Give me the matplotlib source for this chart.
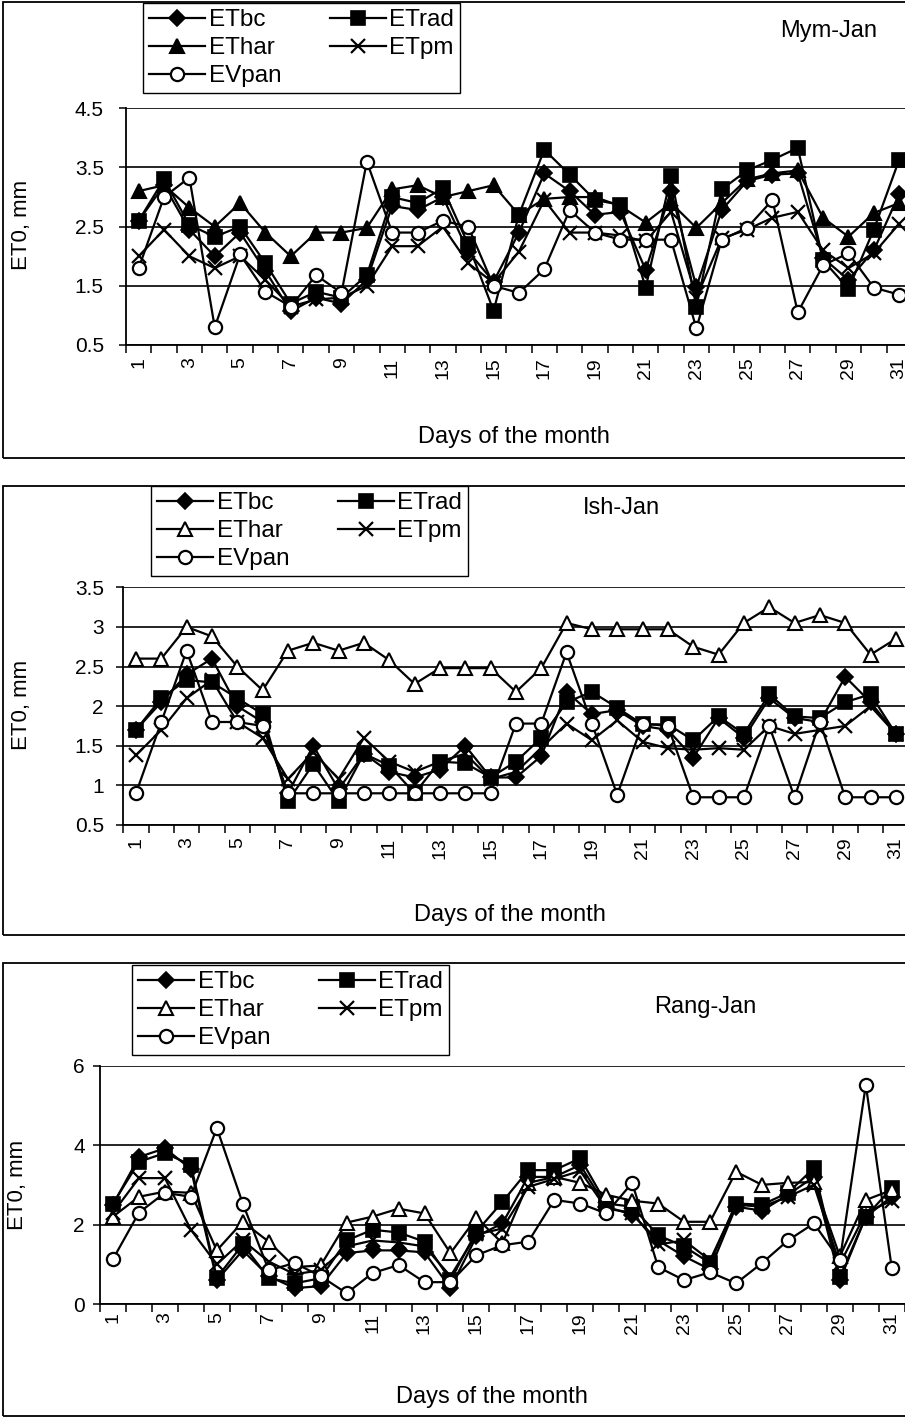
import matplotlib
matplotlib.use('Agg')
import matplotlib.pyplot as plt
from matplotlib.lines import Line2D
from matplotlib.patches import Rectangle
import numpy as np

plt.rcParams['font.family'] = ['Liberation Sans', 'DejaVu Sans']

days = list(range(1, 32))
label_days = list(range(1, 32, 2))
series_names = ['ETbc', 'ETrad', 'EThar', 'ETpm', 'EVpan']

# ---- Mym-Jan ----
mym_etbc = [2.6, 3.2, 2.45, 2.0, 2.4, 1.75, 1.07, 1.3, 1.2, 1.6, 2.85, 2.78, 3.0, 2.08, 1.57, 2.4,
            3.4, 3.1, 2.7, 2.75, 1.77, 3.1, 1.48, 2.78, 3.27, 3.38, 3.4, 1.97, 1.6, 2.1, 3.05]
mym_etrad = [2.6, 3.3, 2.53, 2.33, 2.5, 1.88, 1.2, 1.4, 1.3, 1.68, 3.0, 2.9, 3.15, 2.2, 1.08, 2.7,
             3.8, 3.38, 2.95, 2.87, 1.47, 3.35, 1.15, 3.13, 3.45, 3.63, 3.83, 1.93, 1.45, 2.45, 3.63]
mym_ethar = [3.1, 3.2, 2.82, 2.5, 2.9, 2.4, 2.0, 2.4, 2.4, 2.48, 3.13, 3.2, 3.0, 3.1, 3.2, 2.7,
             2.97, 3.0, 3.0, 2.85, 2.57, 2.9, 2.48, 2.9, 3.3, 3.4, 3.45, 2.65, 2.33, 2.73, 2.9]
mym_etpm = [2.0, 2.45, 2.0, 1.8, 2.0, 1.6, 1.15, 1.27, 1.3, 1.5, 2.17, 2.17, 2.5, 1.88, 1.55, 2.08,
            2.95, 2.4, 2.4, 2.35, 2.25, 2.75, 1.3, 2.3, 2.45, 2.65, 2.75, 2.1, 1.8, 2.05, 2.55]
mym_evpan = [1.8, 3.0, 3.33, 0.8, 2.03, 1.4, 1.15, 1.68, 1.38, 3.6, 2.4, 2.4, 2.6, 2.5, 1.5, 1.38,
             1.78, 2.78, 2.4, 2.28, 2.28, 2.28, 0.78, 2.28, 2.48, 2.95, 1.05, 1.85, 2.05, 1.47, 1.35]

# ---- Ish-Jan ----
ish_etbc = [1.7, 2.05, 2.4, 2.6, 2.0, 1.8, 0.9, 1.5, 0.95, 1.4, 1.17, 1.1, 1.2, 1.5, 1.1, 1.1,
            1.37, 2.18, 1.9, 1.95, 1.75, 1.7, 1.35, 1.85, 1.6, 2.1, 1.85, 1.8, 2.37, 2.05, 1.65]
ish_etrad = [1.7, 2.1, 2.33, 2.3, 2.1, 1.9, 0.8, 1.27, 0.8, 1.4, 1.25, 0.9, 1.3, 1.28, 1.1, 1.3,
             1.6, 2.05, 2.18, 1.98, 1.77, 1.77, 1.57, 1.87, 1.65, 2.15, 1.87, 1.85, 2.05, 2.15, 1.65]
ish_ethar = [2.6, 2.6, 3.0, 2.88, 2.5, 2.2, 2.7, 2.8, 2.7, 2.8, 2.58, 2.28, 2.48, 2.48, 2.48, 2.18,
             2.48, 3.05, 2.97, 2.97, 2.97, 2.97, 2.75, 2.65, 3.05, 3.25, 3.05, 3.15, 3.05, 2.65, 2.85]
ish_etpm = [1.38, 1.7, 2.1, 2.33, 1.8, 1.6, 1.08, 1.42, 1.08, 1.6, 1.3, 1.17, 1.3, 1.4, 1.08, 1.17,
            1.47, 1.78, 1.57, 1.82, 1.55, 1.47, 1.45, 1.47, 1.45, 1.75, 1.65, 1.7, 1.75, 2.0, 1.65]
ish_evpan = [0.9, 1.8, 2.7, 1.8, 1.8, 1.75, 0.9, 0.9, 0.9, 0.9, 0.9, 0.9, 0.9, 0.9, 0.9, 1.78,
             1.78, 2.68, 1.78, 0.88, 1.78, 1.75, 0.85, 0.85, 0.85, 1.75, 0.85, 1.8, 0.85, 0.85, 0.85]

# ---- Rang-Jan ----
rang_etbc = [2.5, 3.7, 3.92, 3.4, 0.6, 1.35, 0.7, 0.4, 0.45, 1.28, 1.35, 1.35, 1.3, 0.4, 1.7, 2.03,
             3.2, 3.2, 3.5, 2.45, 2.25, 1.6, 1.2, 0.87, 2.45, 2.35, 2.75, 3.2, 0.6, 2.2, 2.7]
rang_etrad = [2.53, 3.58, 3.8, 3.5, 0.66, 1.5, 0.65, 0.52, 0.65, 1.6, 1.87, 1.8, 1.57, 0.6, 1.82, 2.57,
              3.37, 3.37, 3.67, 2.53, 2.45, 1.73, 1.45, 1.03, 2.53, 2.5, 2.8, 3.42, 0.68, 2.2, 2.92]
rang_ethar = [2.2, 2.7, 2.83, 2.8, 1.35, 2.07, 1.57, 0.93, 0.97, 2.05, 2.2, 2.4, 2.28, 1.28, 2.17, 1.53,
              3.05, 3.2, 3.05, 2.75, 2.6, 2.53, 2.07, 2.07, 3.33, 3.0, 3.05, 3.07, 1.2, 2.62, 2.87]
rang_etpm = [2.3, 3.17, 3.17, 1.87, 1.0, 1.6, 1.07, 0.75, 0.85, 1.45, 1.6, 1.55, 1.45, 0.7, 1.75, 1.9,
             2.95, 3.15, 3.35, 2.4, 2.3, 1.5, 1.6, 1.1, 2.5, 2.45, 2.7, 3.0, 1.0, 2.3, 2.6]
rang_evpan = [1.13, 2.3, 2.8, 2.7, 4.43, 2.53, 0.85, 1.03, 0.7, 0.27, 0.78, 0.98, 0.55, 0.55, 1.23, 1.48,
              1.57, 2.62, 2.53, 2.28, 3.05, 0.93, 0.6, 0.8, 0.52, 1.03, 1.6, 2.03, 1.1, 5.52, 0.9]

mym_yticks = [0.5, 1.5, 2.5, 3.5, 4.5]
mym_ylabels = ['0.5', '1.5', '2.5', '3.5', '4.5']
ish_yticks = [0.5, 1, 1.5, 2, 2.5, 3, 3.5]
ish_ylabels = ['0.5', '1', '1.5', '2', '2.5', '3', '3.5']
rang_yticks = [0, 2, 4, 6]
rang_ylabels = ['0', '2', '4', '6']

W, H, DPI = 905, 1418, 100
fig = plt.figure(figsize=(W / DPI, H / DPI), dpi=DPI)
fig.patch.set_facecolor('white')


def frect(l, t, r, b):
    return [l / W, 1 - b / H, (r - l) / W, (b - t) / H]


def fx(x):
    return x / W


def fy(y):
    return 1 - y / H


def styles(open_tri):
    return {
        'ETbc': dict(marker='D', ms=8, mfc='black', mec='black', mew=1.2),
        'ETrad': dict(marker='s', ms=9.5, mfc='black', mec='black', mew=1.2),
        'EThar': dict(marker='^', ms=10.5, mfc='white' if open_tri else 'black', mec='black', mew=1.5),
        'ETpm': dict(marker='x', ms=10, mfc='black', mec='black', mew=1.6),
        'EVpan': dict(marker='o', ms=9.5, mfc='white', mec='black', mew=1.6),
    }


panels = [
    dict(series=[mym_etbc, mym_etrad, mym_ethar, mym_etpm, mym_evpan], title='Mym-Jan',
         title_xy=(829, 31), ax_box=(126, 108.3, 126 + 31 * 25.35, 345), ylim=(0.5, 4.5),
         yticks=mym_yticks, ylabels=mym_ylabels, ypad=11, xpad=9, open_tri=False,
         frame=(3, 2, 458), legend_xy=(143, 3), xlabel_xy=(514, 437), ylabel_xy=(22, 225)),
    dict(series=[ish_etbc, ish_etrad, ish_ethar, ish_etpm, ish_evpan], title='Ish-Jan',
         title_xy=(621, 508), ax_box=(123.3, 587.3, 123.3 + 31 * 25.33, 825), ylim=(0.5, 3.5),
         yticks=ish_yticks, ylabels=ish_ylabels, ypad=9, xpad=9, open_tri=True,
         frame=(3, 486, 935), legend_xy=(151, 486), xlabel_xy=(510, 915), ylabel_xy=(22, 705)),
    dict(series=[rang_etbc, rang_etrad, rang_ethar, rang_etpm, rang_evpan], title='Rang-Jan',
         title_xy=(705, 1007), ax_box=(100, 1065.7, 100 + 31 * 25.96, 1304), ylim=(0, 6),
         yticks=rang_yticks, ylabels=rang_ylabels, ypad=6, xpad=6, open_tri=True,
         frame=(3, 963, 1416), legend_xy=(132, 965), xlabel_xy=(492, 1397), ylabel_xy=(18, 1185)),
]

for p in panels:
    fl, ft, fb = p['frame']
    fig.patches.append(Rectangle((fx(fl), fy(fb)), fx(W + 20 - fl), (fb - ft) / H,
                                 transform=fig.transFigure, fill=False, edgecolor='black',
                                 linewidth=1.3, zorder=0))
    l, t, r, b = p['ax_box']
    ax = fig.add_axes(frect(l, t, r, b))
    ax.set_facecolor('none')
    st = styles(p['open_tri'])
    for name, vals in zip(series_names, p['series']):
        ax.plot(days, vals, color='black', lw=1.6, clip_on=False, zorder=3, **st[name])
    ax.set_xlim(0.5, 31.5)
    ax.set_ylim(*p['ylim'])
    ax.set_yticks(p['yticks'])
    ax.set_yticklabels(p['ylabels'])
    ax.yaxis.grid(True, color='black', lw=1.2)
    ax.set_axisbelow(True)
    ax.tick_params(axis='y', direction='out', length=5, width=1.1, pad=p['ypad'], labelsize=15)
    ax.set_xticks(np.arange(0.5, 32, 1.0))
    ax.set_xticklabels([])
    ax.set_xticks(label_days, minor=True)
    ax.set_xticklabels([str(d) for d in label_days], minor=True, rotation=90, va='top')
    ax.tick_params(axis='x', which='major', direction='out', length=6, width=1.1)
    ax.tick_params(axis='x', which='minor', length=0, pad=p['xpad'], labelsize=14)
    for s in ['top', 'right']:
        ax.spines[s].set_visible(False)
    for s in ['left', 'bottom']:
        ax.spines[s].set_linewidth(1.3)
        ax.spines[s].set_zorder(2)

    fig.text(fx(p['title_xy'][0]), fy(p['title_xy'][1]), p['title'], ha='center', va='center',
             fontsize=17)
    fig.text(fx(p['xlabel_xy'][0]), fy(p['xlabel_xy'][1]), 'Days of the month', ha='center',
             va='center', fontsize=17)
    fig.text(fx(p['ylabel_xy'][0]), fy(p['ylabel_xy'][1]), 'ET0, mm', ha='center', va='center',
             rotation=90, fontsize=16)

    order = ['ETbc', 'EThar', 'EVpan', 'ETrad', 'ETpm']
    lh = [Line2D([], [], color='black', lw=1.6, **st[n]) for n in order]
    leg = fig.legend(lh, order, ncol=2, loc='upper left',
                     bbox_to_anchor=(fx(p['legend_xy'][0]), fy(p['legend_xy'][1])),
                     frameon=True, fancybox=False, framealpha=1, edgecolor='black',
                     borderpad=0.25, labelspacing=0.25, handlelength=2.3, handletextpad=0.15,
                     columnspacing=2.0, borderaxespad=0, prop=dict(size=17.5))
    leg.get_frame().set_linewidth(1.0)

fig.savefig('out.png', dpi=DPI, facecolor='white')
